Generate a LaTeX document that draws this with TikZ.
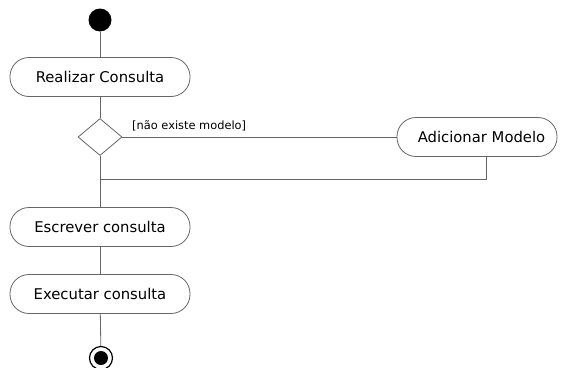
\documentclass[tikz,border=0pt]{standalone}
\usepackage{fontspec}
\setmainfont{DejaVu Sans}
\usetikzlibrary{shapes.geometric}
\begin{document}
\begin{tikzpicture}[x=1pt,y=-1pt,
  line/.style={draw=black!60,line width=0.8pt},
  action/.style={draw=black!60,line width=0.8pt,rounded corners=19pt,fill=white,
    minimum height=39pt,inner sep=0pt,font=\fontsize{14.8}{17}\selectfont},
  guard/.style={font=\fontsize{11.4}{13}\selectfont,inner sep=0pt}]
\useasboundingbox (0,0) rectangle (565,367);
\node[circle,fill=black,minimum size=23pt,inner sep=0pt] (start) at (100,20) {};
\node[action,minimum width=180pt] (realizar) at (100,77) {Realizar Consulta};
\node[diamond,draw=black!60,line width=0.8pt,fill=white,minimum width=44pt,minimum height=37pt,inner sep=0pt] (dec) at (100,137) {};
\node[action,minimum width=160pt] (adicionar) at (477,137) {\hspace*{9pt}Adicionar Modelo};
\node[action,minimum width=180pt] (escrever) at (100,227) {Escrever consulta};
\node[action,minimum width=180pt] (executar) at (100,294) {Executar consulta};
\node[circle,draw=black,line width=1.2pt,minimum size=23pt,inner sep=0pt] (end) at (101,358) {};
\node[circle,fill=black,minimum size=14pt,inner sep=0pt] at (end) {};
\coordinate (merge) at (100,179);
\coordinate (adown) at (486,179);
\node[guard,anchor=south west] (g) at (132,131) {[não existe modelo]};
\draw[line] (start) -- (realizar);
\draw[line] (realizar) -- (dec.north);
\draw[line] (dec.east) -- (adicionar.west);
\draw[line] (adicionar.south -| adown) -- (adown) -- (merge);
\draw[line] (dec.south) -- (escrever.north);
\draw[line] (escrever) -- (executar);
\draw[line] (executar) -- (end);
\end{tikzpicture}
\end{document}
